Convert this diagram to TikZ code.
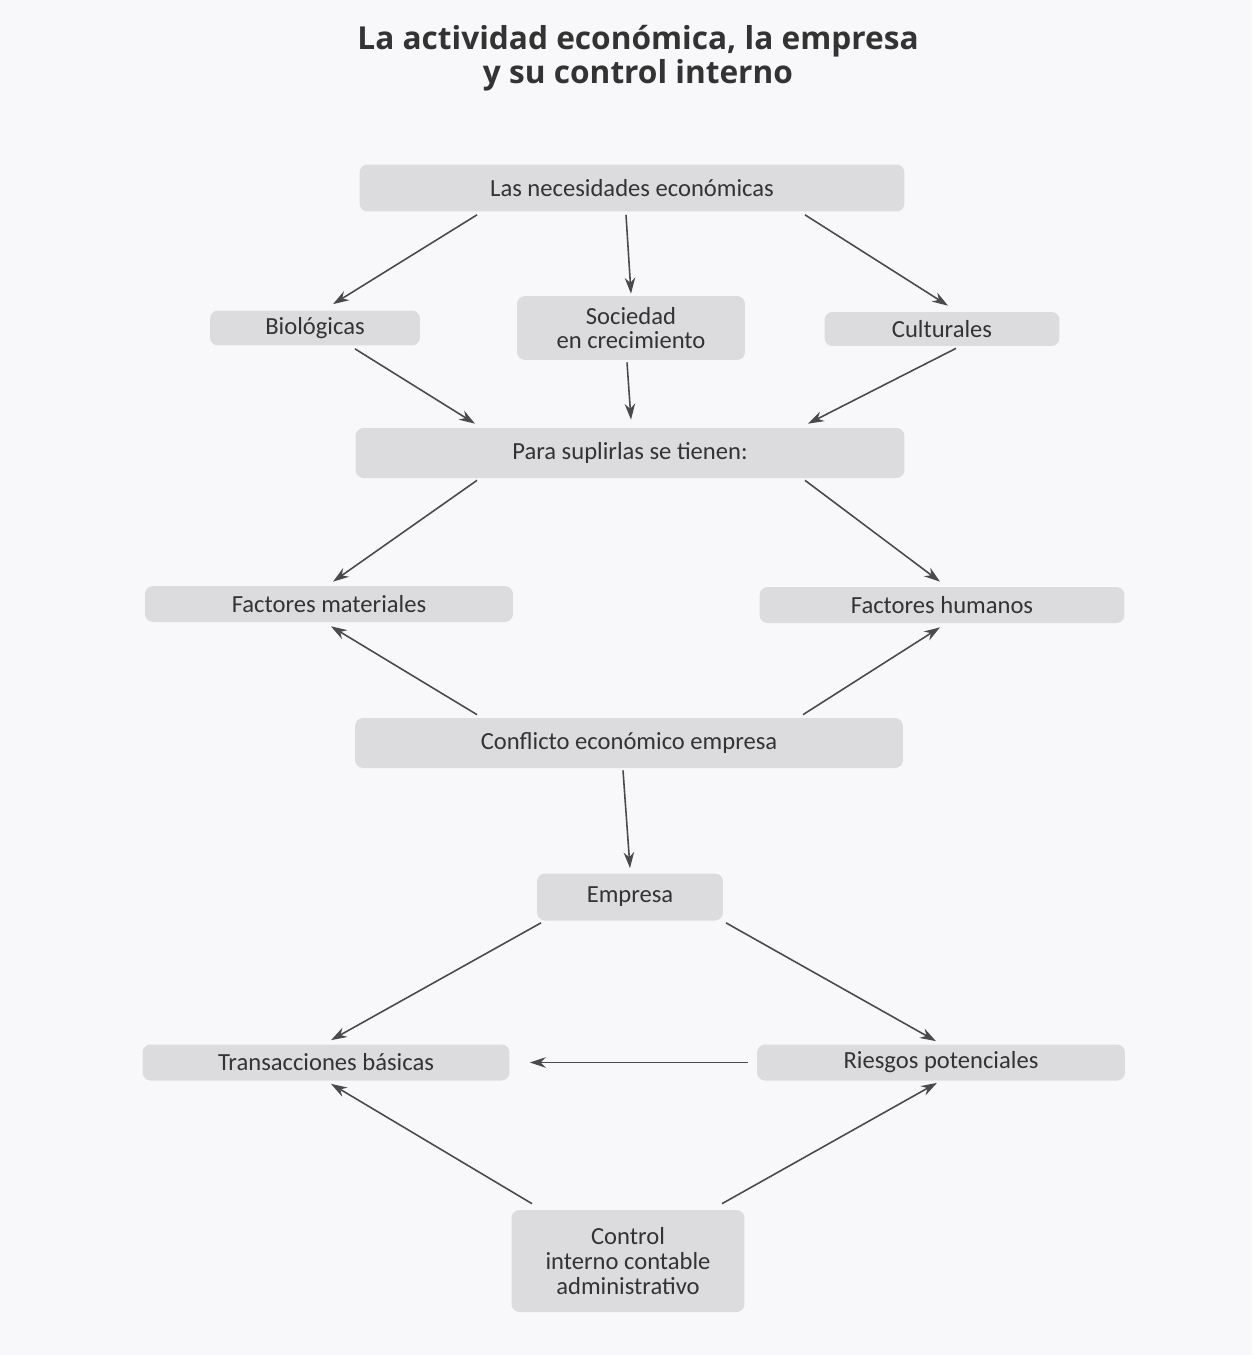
\documentclass[tikz,border=0pt]{standalone}
\usepackage{fontspec}
\setmainfont{Carlito}
\newfontfamily\titlefont{Open Sans}
\usetikzlibrary{arrows.meta,calc}
\definecolor{boxfill}{HTML}{DCDCDF}
\definecolor{txt}{HTML}{333333}
\definecolor{arrc}{HTML}{4A4A4A}
\definecolor{bg}{HTML}{F8F8FA}
\tikzset{
  bx/.style={fill=boxfill, rounded corners=0.16cm, inner sep=0pt, align=center,
    text=txt, font=\fontsize{14}{14}\selectfont},
  arr/.style={draw=arrc, line width=0.9pt, -{Stealth[length=0.32cm,width=0.21cm]}},
}
\begin{document}
\begin{tikzpicture}[x=0.02cm,y=-0.02cm]
\fill[bg] (0,0) rectangle (1252,1355);
\useasboundingbox (0,0) rectangle (1252,1355);
\node[text=txt, font=\titlefont\bfseries\fontsize{18}{19}\selectfont, align=center] (title) at (638,58)
  {La actividad económica, la empresa\\y su control interno};
\node[bx, minimum width=10.9cm, minimum height=0.94cm] (top) at (632,188) {Las necesidades económicas};
\node[bx, minimum width=4.2cm, minimum height=0.7cm] (bio) at (315,328) {Biológicas};
\node[bx, minimum width=4.56cm, minimum height=1.28cm] (soc) at (631,328) {Sociedad\\en crecimiento};
\node[bx, minimum width=4.7cm, minimum height=0.68cm] (cul) at (942,329) {Culturales};
\node[bx, minimum width=10.98cm, minimum height=1.0cm] (para) at (630,453) {Para suplirlas se tienen:};
\node[bx, minimum width=7.36cm, minimum height=0.72cm] (fmat) at (329,604) {Factores materiales};
\node[bx, minimum width=7.3cm, minimum height=0.72cm] (fhum) at (942,605) {Factores humanos};
\node[bx, minimum width=10.96cm, minimum height=1.0cm] (conf) at (629,743) {Conflicto económico empresa};
\node[bx, minimum width=3.72cm, minimum height=0.94cm] (emp) at (630,897) {Empresa};
\node[bx, minimum width=7.34cm, minimum height=0.72cm] (trans) at (326,1062.5) {Transacciones básicas};
\node[bx, minimum width=7.36cm, minimum height=0.72cm] (ries) at (941,1062.5) {Riesgos potenciales};
\node[bx, minimum width=4.66cm, minimum height=2.04cm] (ctrl) at (628,1261) {Control\\interno contable\\administrativo};
% arrows
\draw[arr] ($(top.south)+(-155,3)$) -- ($(bio.north)+(18,-6)$);
\draw[arr] ($(top.south)+(-6,3)$) -- ($(soc.north)+(0,-2)$);
\draw[arr] ($(top.south)+(173,3)$) -- ($(cul.north)+(6,-6)$);
\draw[arr] ($(bio.south)+(40,3)$) -- ($(para.north)+(-155,-4)$);
\draw[arr] ($(soc.south)+(-4,2)$) -- ($(para.north)+(1,-8)$);
\draw[arr] ($(cul.south)+(14,2)$) -- ($(para.north)+(178,-4)$);
\draw[arr] ($(para.south)+(-153,2)$) -- ($(fmat.north)+(4,-4)$);
\draw[arr] ($(para.south)+(175,2)$) -- ($(fhum.north)+(-2,-5)$);
\draw[arr] ($(conf.north)+(-152,-3)$) -- ($(fmat.south)+(2,4)$);
\draw[arr] ($(conf.north)+(174,-3)$) -- ($(fhum.south)+(-2,4)$);
\draw[arr] ($(conf.south)+(-6,2)$) -- ($(emp.north)+(0,-5)$);
\draw[arr] ($(emp.south)+(-89,2)$) -- ($(trans.north)+(5,-4)$);
\draw[arr] ($(emp.south)+(96,2)$) -- ($(ries.north)+(-5,-3)$);
\draw[arr] ($(ries.west)+(-9,0)$) -- ($(trans.east)+(20,0)$);
\draw[arr] ($(ctrl.north)+(-96,-6)$) -- ($(trans.south)+(5,3)$);
\draw[arr] ($(ctrl.north)+(94,-6)$) -- ($(ries.south)+(-4,2)$);
\end{tikzpicture}
\end{document}
